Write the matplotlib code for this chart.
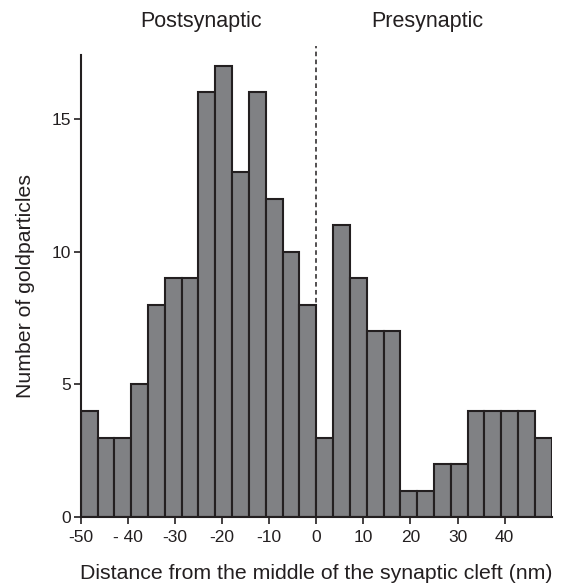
import numpy as np
import matplotlib
matplotlib.use("Agg")
from matplotlib import pyplot as plt

plt.rcParams["font.family"] = ["Liberation Sans", "DejaVu Sans"]

# counts per bin, 28 bins between -50 and 50 nm
bin_range = (-50, 50)
counts = [4, 3, 3, 5, 8, 9, 9, 16, 17, 13, 16, 12, 10, 8,
          3, 11, 9, 7, 7, 1, 1, 2, 2, 4, 4, 4, 4, 3]
x_ticks = [-50, -40, -30, -20, -10, 0, 10, 20, 30, 40]
x_tick_labels = ["-50", "- 40", "-30", "-20", "-10", "0", "10", "20", "30", "40"]
y_ticks = [0, 5, 10, 15]
side_labels = ["Postsynaptic", "Presynaptic"]
side_label_x = [-24.5, 23.5]

bar_color = "#808184"
edge_color = "#231f20"

fig = plt.figure(figsize=(5.71, 5.88), dpi=100)
axis = fig.add_axes([0.1413, 0.1202, 0.825, 0.7862])

edges = np.linspace(bin_range[0], bin_range[1], len(counts) + 1)
axis.bar(edges[:-1], counts, width=np.diff(edges), align="edge",
         color=bar_color, edgecolor=edge_color, linewidth=1.5, zorder=2)

# boundary between the two sides
axis.plot([0, 0], [0, 17.75], linestyle=(0, (3, 2.2)), color=edge_color,
          linewidth=1.1, clip_on=False, zorder=3)

axis.set_xlim(*bin_range)
axis.set_ylim(0, 17.4)
axis.set_xticks(x_ticks)
axis.set_xticklabels(x_tick_labels)
axis.set_yticks(y_ticks)

for side in ["top", "right"]:
    axis.spines[side].set_visible(False)
for side in ["left", "bottom"]:
    axis.spines[side].set_linewidth(1.5)
    axis.spines[side].set_color(edge_color)

axis.tick_params(direction="out", length=5, width=1.2, colors=edge_color,
                 labelsize=12.5, labelcolor="#231f20", pad=2)
axis.tick_params(axis="x", pad=4)

axis.set_xlabel("Distance from the middle of the synaptic cleft (nm)",
                fontsize=15.3, color=edge_color, labelpad=14)
axis.set_ylabel("Number of goldparticles", fontsize=15.3, color=edge_color,
                labelpad=12)

for label, x_pos in zip(side_labels, side_label_x):
    axis.text(x_pos, 1.072, label, transform=axis.get_xaxis_transform(),
              ha="center", va="center", fontsize=15.5, color=edge_color)

fig.savefig("out.png", dpi=100)
